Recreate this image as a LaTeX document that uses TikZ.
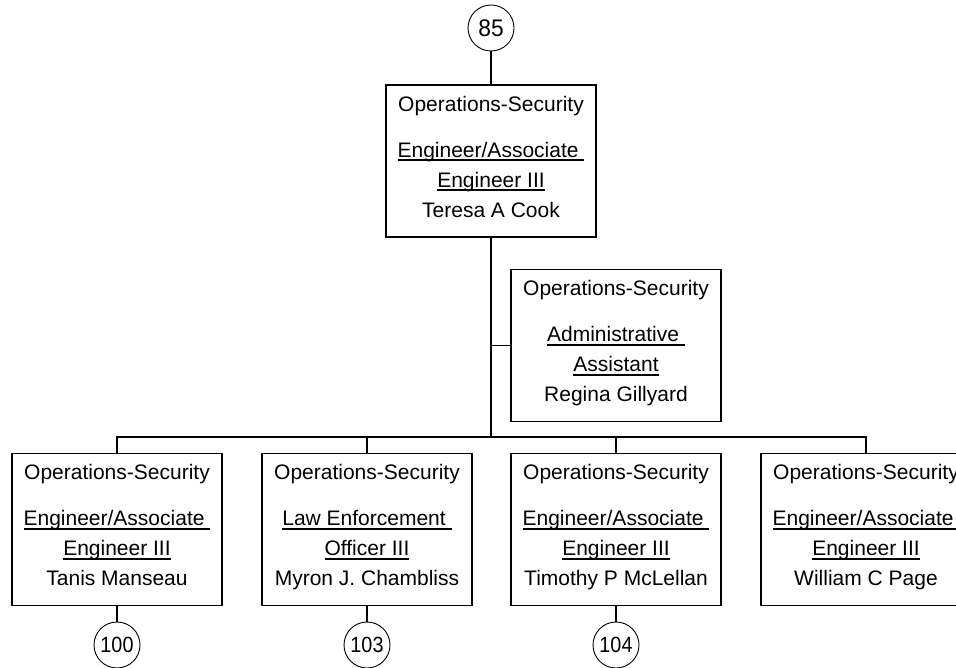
\documentclass[tikz,border=0pt]{standalone}
\usepackage{fontspec}
\setmainfont{Liberation Sans}
\usetikzlibrary{calc}
\newcommand\ulx[1]{\setbox0\hbox{#1}\rlap{\rule[-4pt]{\wd0}{1.6pt}}\box0}
\newcommand\refnum[2]{\scalebox{#1}[1]{#2}}
\tikzset{
 obox/.style={draw, line width=1.9pt, minimum width=210pt, minimum height=152pt, inner sep=0pt},
 otxt/.style={anchor=base, inner sep=0pt, font=\fontsize{21}{25}\selectfont},
 conn/.style={line width=1.9pt},
 refc/.style={draw, circle, line width=0.9pt, minimum size=46pt, inner sep=0pt, font=\fontsize{24}{28}\selectfont},
 refs/.style={refc, font=\fontsize{22}{26}\selectfont}
}
\newcommand\orgbox[6]{%
 \node[obox] (#1) at (#2,#3) {};
 \node[otxt] (#1-a) at ($(#1.north)+(0,27)$) {Operations-Security};
 \node[otxt] (#1-b) at ($(#1.north)+(0,73)$) {\ulx{#4}};
 \node[otxt] (#1-c) at ($(#1.north)+(0,103)$) {\ulx{#5}};
 \node[otxt] (#1-d) at ($(#1.north)+(0,133)$) {#6};
}
\begin{document}
\begin{tikzpicture}[x=1pt,y=-1pt]
\useasboundingbox (0,0) rectangle (956,668);
\clip (0,0) rectangle (956,668);
% reference circles
\node[refc] (c85) at (491,28) {\refnum{0.95}{85}};
% boxes
\orgbox{top}{491}{161}{Engineer/Associate\ }{Engineer III}{Teresa A Cook}
\orgbox{asst}{616}{345.5}{Administrative\ }{Assistant}{Regina Gillyard}
\orgbox{b1}{117}{529.5}{Engineer/Associate\ }{Engineer III}{Tanis Manseau}
\orgbox{b2}{367}{529.5}{Law Enforcement\ }{Officer III}{Myron J. Chambliss}
\orgbox{b3}{616}{529.5}{Engineer/Associate\ }{Engineer III}{Timothy P McLellan}
\orgbox{b4}{866}{529.5}{Engineer/Associate\ }{Engineer III}{William C Page}
\node[refs] (c100) at (117,645) {\refnum{0.9}{100}};
\node[refs] (c103) at (367,645) {\refnum{0.9}{103}};
\node[refs] (c104) at (616,645) {\refnum{0.9}{104}};
\coordinate (bus) at (491,437);
% connectors
\draw[conn] (c85) -- (top);
\draw[conn] (top) -- (bus);
\draw[conn] (asst.west) -- (asst.west -| top.south);
\draw[conn] (b1.north) |- (bus) -| (b4.north);
\draw[conn] (b2.north) -- (b2.north |- bus);
\draw[conn] (b3.north) -- (b3.north |- bus);
\draw[conn] (b1) -- (c100);
\draw[conn] (b2) -- (c103);
\draw[conn] (b3) -- (c104);
\end{tikzpicture}
\end{document}
